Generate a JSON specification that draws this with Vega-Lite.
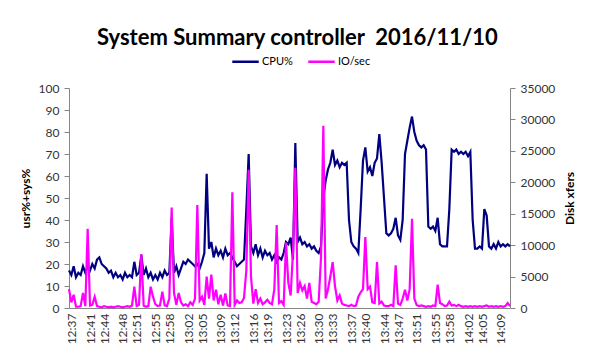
{
  "$schema": "https://vega.github.io/schema/vega-lite/v6.json",
  "width": 441,
  "height": 220,
  "autosize": {"type": "none"},
  "padding": {"left": 69, "top": 88, "right": 84, "bottom": 49},
  "background": "white",
  "title": {"text": "System Summary controller\u00a0 2016/11/10", "font": "Lato", "fontSize": 22, "fontWeight": "bold", "color": "#000000", "anchor": "middle", "frame": "bounds", "offset": -3},
  "data": {"values": [
{"t":"2016-11-10T12:37:00","cpu":17,"io":3000},{"t":"2016-11-10T12:37:30","cpu":15,"io":900},{"t":"2016-11-10T12:38:00","cpu":19,"io":2100},{"t":"2016-11-10T12:38:30","cpu":14,"io":200},{"t":"2016-11-10T12:39:00","cpu":16,"io":200},{"t":"2016-11-10T12:39:30","cpu":15,"io":300},{"t":"2016-11-10T12:40:00","cpu":19,"io":2400},{"t":"2016-11-10T12:40:30","cpu":16,"io":300},{"t":"2016-11-10T12:41:00","cpu":19,"io":12600},{"t":"2016-11-10T12:41:30","cpu":17,"io":400},
{"t":"2016-11-10T12:42:00","cpu":20,"io":500},{"t":"2016-11-10T12:42:30","cpu":18,"io":1800},{"t":"2016-11-10T12:43:00","cpu":22,"io":300},{"t":"2016-11-10T12:43:30","cpu":23,"io":200},{"t":"2016-11-10T12:44:00","cpu":20,"io":100},{"t":"2016-11-10T12:44:30","cpu":19,"io":300},{"t":"2016-11-10T12:45:00","cpu":18,"io":200},{"t":"2016-11-10T12:45:30","cpu":16,"io":100},{"t":"2016-11-10T12:46:00","cpu":17,"io":200},{"t":"2016-11-10T12:46:30","cpu":14,"io":100},
{"t":"2016-11-10T12:47:00","cpu":16,"io":200},{"t":"2016-11-10T12:47:30","cpu":14,"io":300},{"t":"2016-11-10T12:48:00","cpu":15,"io":200},{"t":"2016-11-10T12:48:30","cpu":13,"io":100},{"t":"2016-11-10T12:49:00","cpu":16,"io":200},{"t":"2016-11-10T12:49:30","cpu":14,"io":300},{"t":"2016-11-10T12:50:00","cpu":15,"io":200},{"t":"2016-11-10T12:50:30","cpu":14,"io":400},{"t":"2016-11-10T12:51:00","cpu":21,"io":3400},{"t":"2016-11-10T12:51:30","cpu":15,"io":300},
{"t":"2016-11-10T12:52:00","cpu":16,"io":500},{"t":"2016-11-10T12:52:30","cpu":24,"io":8600},{"t":"2016-11-10T12:53:00","cpu":15,"io":400},{"t":"2016-11-10T12:53:30","cpu":18,"io":200},{"t":"2016-11-10T12:54:00","cpu":14,"io":300},{"t":"2016-11-10T12:54:30","cpu":16,"io":3400},{"t":"2016-11-10T12:55:00","cpu":13,"io":1800},{"t":"2016-11-10T12:55:30","cpu":15,"io":600},{"t":"2016-11-10T12:56:00","cpu":13,"io":300},{"t":"2016-11-10T12:56:30","cpu":16,"io":400},
{"t":"2016-11-10T12:57:00","cpu":14,"io":2600},{"t":"2016-11-10T12:57:30","cpu":17,"io":400},{"t":"2016-11-10T12:58:00","cpu":15,"io":300},{"t":"2016-11-10T12:58:30","cpu":16,"io":1500},{"t":"2016-11-10T12:59:00","cpu":41,"io":16000},{"t":"2016-11-10T12:59:30","cpu":16,"io":2400},{"t":"2016-11-10T13:00:00","cpu":19,"io":500},{"t":"2016-11-10T13:00:30","cpu":15,"io":2400},{"t":"2016-11-10T13:01:00","cpu":18,"io":900},{"t":"2016-11-10T13:01:30","cpu":21,"io":400},
{"t":"2016-11-10T13:02:00","cpu":20,"io":600},{"t":"2016-11-10T13:02:30","cpu":22,"io":300},{"t":"2016-11-10T13:03:00","cpu":21,"io":900},{"t":"2016-11-10T13:03:30","cpu":20,"io":500},{"t":"2016-11-10T13:04:00","cpu":19,"io":1500},{"t":"2016-11-10T13:04:30","cpu":20,"io":16400},{"t":"2016-11-10T13:05:00","cpu":18,"io":1200},{"t":"2016-11-10T13:05:30","cpu":21,"io":1800},{"t":"2016-11-10T13:06:00","cpu":25,"io":500},{"t":"2016-11-10T13:06:30","cpu":61,"io":5000},
{"t":"2016-11-10T13:07:00","cpu":27,"io":1500},{"t":"2016-11-10T13:07:30","cpu":30,"io":5300},{"t":"2016-11-10T13:08:00","cpu":23,"io":1200},{"t":"2016-11-10T13:08:30","cpu":27,"io":2900},{"t":"2016-11-10T13:09:00","cpu":24,"io":600},{"t":"2016-11-10T13:09:30","cpu":26,"io":2100},{"t":"2016-11-10T13:10:00","cpu":23,"io":400},{"t":"2016-11-10T13:10:30","cpu":27,"io":2300},{"t":"2016-11-10T13:11:00","cpu":24,"io":400},{"t":"2016-11-10T13:11:30","cpu":25,"io":300},
{"t":"2016-11-10T13:12:00","cpu":23,"io":18400},{"t":"2016-11-10T13:12:30","cpu":21,"io":500},{"t":"2016-11-10T13:13:00","cpu":19,"io":1200},{"t":"2016-11-10T13:13:30","cpu":20,"io":800},{"t":"2016-11-10T13:14:00","cpu":21,"io":900},{"t":"2016-11-10T13:14:30","cpu":22,"io":1600},{"t":"2016-11-10T13:15:00","cpu":45,"io":6000},{"t":"2016-11-10T13:15:30","cpu":70,"io":22000},{"t":"2016-11-10T13:16:00","cpu":28,"io":5000},{"t":"2016-11-10T13:16:30","cpu":25,"io":700},
{"t":"2016-11-10T13:17:00","cpu":29,"io":3000},{"t":"2016-11-10T13:17:30","cpu":24,"io":800},{"t":"2016-11-10T13:18:00","cpu":27,"io":1500},{"t":"2016-11-10T13:18:30","cpu":23,"io":600},{"t":"2016-11-10T13:19:00","cpu":26,"io":900},{"t":"2016-11-10T13:19:30","cpu":24,"io":1300},{"t":"2016-11-10T13:20:00","cpu":25,"io":800},{"t":"2016-11-10T13:20:30","cpu":22,"io":600},{"t":"2016-11-10T13:21:00","cpu":24,"io":3000},{"t":"2016-11-10T13:21:30","cpu":21,"io":13200},
{"t":"2016-11-10T13:22:00","cpu":23,"io":800},{"t":"2016-11-10T13:22:30","cpu":22,"io":1100},{"t":"2016-11-10T13:23:00","cpu":25,"io":500},{"t":"2016-11-10T13:23:30","cpu":30,"io":10400},{"t":"2016-11-10T13:24:00","cpu":29,"io":4000},{"t":"2016-11-10T13:24:30","cpu":32,"io":2000},{"t":"2016-11-10T13:25:00","cpu":22,"io":9000},{"t":"2016-11-10T13:25:30","cpu":75,"io":22300},{"t":"2016-11-10T13:26:00","cpu":30,"io":2400},{"t":"2016-11-10T13:26:30","cpu":32,"io":4000},
{"t":"2016-11-10T13:27:00","cpu":29,"io":2800},{"t":"2016-11-10T13:27:30","cpu":30,"io":3500},{"t":"2016-11-10T13:28:00","cpu":28,"io":1500},{"t":"2016-11-10T13:28:30","cpu":29,"io":4000},{"t":"2016-11-10T13:29:00","cpu":27,"io":1000},{"t":"2016-11-10T13:29:30","cpu":28,"io":800},{"t":"2016-11-10T13:30:00","cpu":26,"io":600},{"t":"2016-11-10T13:30:30","cpu":25,"io":1000},{"t":"2016-11-10T13:31:00","cpu":28,"io":8000},{"t":"2016-11-10T13:31:30","cpu":50,"io":29000},
{"t":"2016-11-10T13:32:00","cpu":58,"io":1500},{"t":"2016-11-10T13:32:30","cpu":63,"io":3000},{"t":"2016-11-10T13:33:00","cpu":66,"io":5000},{"t":"2016-11-10T13:33:30","cpu":72,"io":7300},{"t":"2016-11-10T13:34:00","cpu":65,"io":3500},{"t":"2016-11-10T13:34:30","cpu":67,"io":1200},{"t":"2016-11-10T13:35:00","cpu":64,"io":2000},{"t":"2016-11-10T13:35:30","cpu":66,"io":700},{"t":"2016-11-10T13:36:00","cpu":65,"io":500},{"t":"2016-11-10T13:36:30","cpu":66,"io":400},
{"t":"2016-11-10T13:37:00","cpu":40,"io":300},{"t":"2016-11-10T13:37:30","cpu":30,"io":500},{"t":"2016-11-10T13:38:00","cpu":28,"io":300},{"t":"2016-11-10T13:38:30","cpu":27,"io":400},{"t":"2016-11-10T13:39:00","cpu":25,"io":1800},{"t":"2016-11-10T13:39:30","cpu":45,"io":2500},{"t":"2016-11-10T13:40:00","cpu":67,"io":3000},{"t":"2016-11-10T13:40:30","cpu":73,"io":11300},{"t":"2016-11-10T13:41:00","cpu":62,"io":3000},{"t":"2016-11-10T13:41:30","cpu":64,"io":3400},
{"t":"2016-11-10T13:42:00","cpu":60,"io":900},{"t":"2016-11-10T13:42:30","cpu":66,"io":800},{"t":"2016-11-10T13:43:00","cpu":68,"io":7300},{"t":"2016-11-10T13:43:30","cpu":79,"io":700},{"t":"2016-11-10T13:44:00","cpu":66,"io":1000},{"t":"2016-11-10T13:44:30","cpu":50,"io":400},{"t":"2016-11-10T13:45:00","cpu":34,"io":300},{"t":"2016-11-10T13:45:30","cpu":33,"io":300},{"t":"2016-11-10T13:46:00","cpu":34,"io":500},{"t":"2016-11-10T13:46:30","cpu":36,"io":300},
{"t":"2016-11-10T13:47:00","cpu":41,"io":6800},{"t":"2016-11-10T13:47:30","cpu":33,"io":700},{"t":"2016-11-10T13:48:00","cpu":31,"io":500},{"t":"2016-11-10T13:48:30","cpu":40,"io":1500},{"t":"2016-11-10T13:49:00","cpu":70,"io":2900},{"t":"2016-11-10T13:49:30","cpu":76,"io":1200},{"t":"2016-11-10T13:50:00","cpu":82,"io":3000},{"t":"2016-11-10T13:50:30","cpu":87,"io":14200},{"t":"2016-11-10T13:51:00","cpu":80,"io":1500},{"t":"2016-11-10T13:51:30","cpu":76,"io":500},
{"t":"2016-11-10T13:52:00","cpu":74,"io":300},{"t":"2016-11-10T13:52:30","cpu":73,"io":400},{"t":"2016-11-10T13:53:00","cpu":74,"io":300},{"t":"2016-11-10T13:53:30","cpu":72,"io":200},{"t":"2016-11-10T13:54:00","cpu":37,"io":300},{"t":"2016-11-10T13:54:30","cpu":36,"io":200},{"t":"2016-11-10T13:55:00","cpu":37,"io":400},{"t":"2016-11-10T13:55:30","cpu":35,"io":300},{"t":"2016-11-10T13:56:00","cpu":41,"io":3700},{"t":"2016-11-10T13:56:30","cpu":29,"io":800},
{"t":"2016-11-10T13:57:00","cpu":28,"io":600},{"t":"2016-11-10T13:57:30","cpu":28,"io":300},{"t":"2016-11-10T13:58:00","cpu":28,"io":400},{"t":"2016-11-10T13:58:30","cpu":45,"io":1000},{"t":"2016-11-10T13:59:00","cpu":72,"io":400},{"t":"2016-11-10T13:59:30","cpu":71,"io":500},{"t":"2016-11-10T14:00:00","cpu":72,"io":300},{"t":"2016-11-10T14:00:30","cpu":70,"io":500},{"t":"2016-11-10T14:01:00","cpu":71,"io":300},{"t":"2016-11-10T14:01:30","cpu":70,"io":200},
{"t":"2016-11-10T14:02:00","cpu":71,"io":300},{"t":"2016-11-10T14:02:30","cpu":69,"io":200},{"t":"2016-11-10T14:03:00","cpu":71,"io":300},{"t":"2016-11-10T14:03:30","cpu":40,"io":200},{"t":"2016-11-10T14:04:00","cpu":27,"io":300},{"t":"2016-11-10T14:04:30","cpu":27,"io":200},{"t":"2016-11-10T14:05:00","cpu":28,"io":300},{"t":"2016-11-10T14:05:30","cpu":27,"io":200},{"t":"2016-11-10T14:06:00","cpu":45,"io":300},{"t":"2016-11-10T14:06:30","cpu":42,"io":400},
{"t":"2016-11-10T14:07:00","cpu":28,"io":200},{"t":"2016-11-10T14:07:30","cpu":27,"io":300},{"t":"2016-11-10T14:08:00","cpu":29,"io":200},{"t":"2016-11-10T14:08:30","cpu":27,"io":300},{"t":"2016-11-10T14:09:00","cpu":30,"io":200},{"t":"2016-11-10T14:09:30","cpu":28,"io":300},{"t":"2016-11-10T14:10:00","cpu":29,"io":200},{"t":"2016-11-10T14:10:30","cpu":28,"io":300},{"t":"2016-11-10T14:11:00","cpu":29,"io":800},{"t":"2016-11-10T14:11:30","cpu":28,"io":300}
  ]},
  "encoding": {
    "x": {
      "field": "t", "type": "temporal", "title": null,
      "scale": {"nice": false},
      "axis": {
        "format": "%H:%M", "labelAngle": 270, "labelOverlap": false, "ticks": false, "labelPadding": 5,
        "values": [
          {"year":2016,"month":11,"date":10,"hours":12,"minutes":37,"seconds":30},
          {"year":2016,"month":11,"date":10,"hours":12,"minutes":41,"seconds":30},
          {"year":2016,"month":11,"date":10,"hours":12,"minutes":44,"seconds":30},
          {"year":2016,"month":11,"date":10,"hours":12,"minutes":48,"seconds":30},
          {"year":2016,"month":11,"date":10,"hours":12,"minutes":51,"seconds":30},
          {"year":2016,"month":11,"date":10,"hours":12,"minutes":55,"seconds":30},
          {"year":2016,"month":11,"date":10,"hours":12,"minutes":58,"seconds":30},
          {"year":2016,"month":11,"date":10,"hours":13,"minutes":2,"seconds":30},
          {"year":2016,"month":11,"date":10,"hours":13,"minutes":5,"seconds":30},
          {"year":2016,"month":11,"date":10,"hours":13,"minutes":9,"seconds":30},
          {"year":2016,"month":11,"date":10,"hours":13,"minutes":12,"seconds":30},
          {"year":2016,"month":11,"date":10,"hours":13,"minutes":16,"seconds":30},
          {"year":2016,"month":11,"date":10,"hours":13,"minutes":19,"seconds":30},
          {"year":2016,"month":11,"date":10,"hours":13,"minutes":23,"seconds":30},
          {"year":2016,"month":11,"date":10,"hours":13,"minutes":26,"seconds":30},
          {"year":2016,"month":11,"date":10,"hours":13,"minutes":30,"seconds":30},
          {"year":2016,"month":11,"date":10,"hours":13,"minutes":33,"seconds":30},
          {"year":2016,"month":11,"date":10,"hours":13,"minutes":37,"seconds":30},
          {"year":2016,"month":11,"date":10,"hours":13,"minutes":40,"seconds":30},
          {"year":2016,"month":11,"date":10,"hours":13,"minutes":44,"seconds":30},
          {"year":2016,"month":11,"date":10,"hours":13,"minutes":47,"seconds":30},
          {"year":2016,"month":11,"date":10,"hours":13,"minutes":51,"seconds":30},
          {"year":2016,"month":11,"date":10,"hours":13,"minutes":55,"seconds":30},
          {"year":2016,"month":11,"date":10,"hours":13,"minutes":58,"seconds":30},
          {"year":2016,"month":11,"date":10,"hours":14,"minutes":2,"seconds":30},
          {"year":2016,"month":11,"date":10,"hours":14,"minutes":5,"seconds":30},
          {"year":2016,"month":11,"date":10,"hours":14,"minutes":9,"seconds":30}
        ]
      }
    }
  },
  "layer": [
    {
      "mark": {"type": "line", "strokeWidth": 2.2, "interpolate": "linear"},
      "encoding": {
        "y": {"field": "cpu", "type": "quantitative", "title": "usr%+sys%",
          "scale": {"domain": [0, 100], "nice": false},
          "axis": {"orient": "left", "values": [0,10,20,30,40,50,60,70,80,90,100], "titlePadding": 6}},
        "color": {"datum": "CPU%", "type": "nominal",
          "scale": {"domain": ["CPU%", "IO/sec"], "range": ["#000080", "#FF00FF"]},
          "legend": {"orient": "none", "legendX": 162, "legendY": -41, "direction": "horizontal", "title": null,
            "symbolType": "stroke", "symbolStrokeWidth": 2.5, "symbolSize": 700, "labelFont": "Lato", "labelFontSize": 11, "labelColor": "#000000", "labelOffset": 2, "columnPadding": 10}}
      }
    },
    {
      "mark": {"type": "line", "strokeWidth": 2.2, "interpolate": "linear"},
      "encoding": {
        "y": {"field": "io", "type": "quantitative", "title": "Disk xfers",
          "scale": {"domain": [0, 35000], "nice": false},
          "axis": {"orient": "right", "values": [0,5000,10000,15000,20000,25000,30000,35000], "format": "d", "titleAngle": 270, "titlePadding": 22}},
        "color": {"datum": "IO/sec", "type": "nominal"}
      }
    }
  ],
  "resolve": {"scale": {"y": "independent"}},
  "config": {
    "view": {"stroke": null},
    "font": "Lato",
    "axis": {"grid": false, "domainColor": "#868686", "tickColor": "#868686", "labelColor": "#333333", "labelFont": "Lato", "labelFontSize": 12, "titleFont": "Lato", "titleFontSize": 12, "titleFontWeight": "bold", "titleColor": "#000000", "tickSize": 5, "labelPadding": 5}
  }
}
